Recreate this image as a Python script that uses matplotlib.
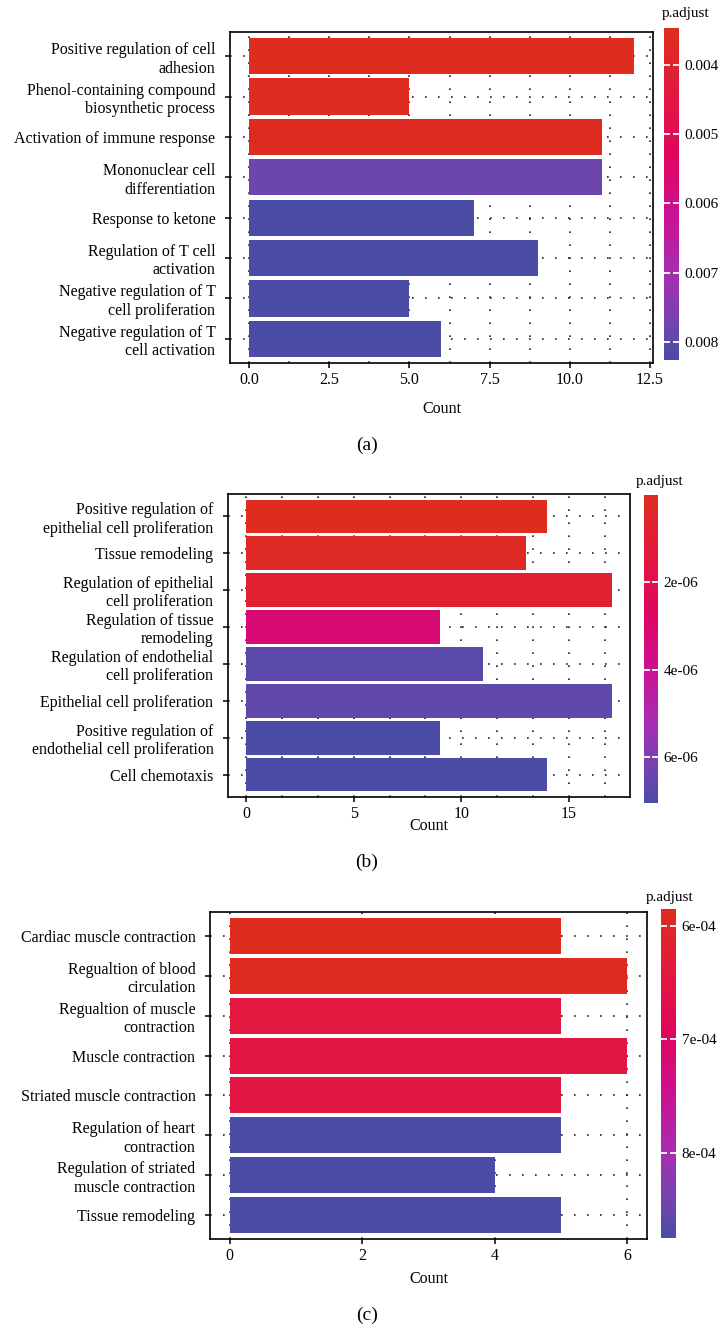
import numpy as np
import matplotlib
matplotlib.use("Agg")
import matplotlib.pyplot as plt
from matplotlib.colors import LinearSegmentedColormap, Normalize
from matplotlib.cm import ScalarMappable
from matplotlib.ticker import MultipleLocator

plt.rcParams['font.family'] = ['Liberation Serif', 'DejaVu Serif']

# panel (a)
a_terms = ["Positive regulation of cell\nadhesion",
           "Phenol-containing compound\nbiosynthetic process",
           "Activation of immune response",
           "Mononuclear cell\ndifferentiation",
           "Response to ketone",
           "Regulation of T cell\nactivation",
           "Negative regulation of T\ncell proliferation",
           "Negative regulation of T\ncell activation"]
a_count = [12, 5, 11, 11, 7, 9, 5, 6]
a_padj = [0.00347, 0.00352, 0.00358, 0.00783, 0.00826, 0.00826, 0.00826, 0.00826]
a_xticks = [0, 2.5, 5, 7.5, 10, 12.5]
a_xlabels = ["0.0", "2.5", "5.0", "7.5", "10.0", "12.5"]
a_cticks = [0.004, 0.005, 0.006, 0.007, 0.008]
a_clabels = ["0.004", "0.005", "0.006", "0.007", "0.008"]

# panel (b)
b_terms = ["Positive regulation of\nepithelial cell proliferation",
           "Tissue remodeling",
           "Regulation of epithelial\ncell proliferation",
           "Regulation of tissue\nremodeling",
           "Regulation of endothelial\ncell proliferation",
           "Epithelial cell proliferation",
           "Positive regulation of\nendothelial cell proliferation",
           "Cell chemotaxis"]
b_count = [14, 13, 17, 9, 11, 17, 9, 14]
b_padj = [1.0e-08, 3.0e-07, 8.5e-07, 3.2e-06, 6.7e-06, 6.6e-06, 7.05e-06, 7.05e-06]
b_xticks = [0, 5, 10, 15]
b_xlabels = ["0", "5", "10", "15"]
b_cticks = [2e-06, 4e-06, 6e-06]
b_clabels = ["2e-06", "4e-06", "6e-06"]

# panel (c)
c_terms = ["Cardiac muscle contraction",
           "Regualtion of blood\ncirculation",
           "Regualtion of muscle\ncontraction",
           "Muscle contraction",
           "Striated muscle contraction",
           "Regulation of heart\ncontraction",
           "Regulation of striated\nmuscle contraction",
           "Tissue remodeling"]
c_count = [5, 6, 5, 6, 5, 5, 4, 5]
c_padj = [5.85e-04, 5.9e-04, 6.45e-04, 6.5e-04, 6.5e-04, 8.75e-04, 8.75e-04, 8.75e-04]
c_xticks = [0, 2, 4, 6]
c_xlabels = ["0", "2", "4", "6"]
c_cticks = [6e-04, 7e-04, 8e-04]
c_clabels = ["6e-04", "7e-04", "8e-04"]

cmap = LinearSegmentedColormap.from_list("padj", [
    (0.0, "#DE2D1F"), (0.2, "#E2183F"), (0.38, "#E0055E"), (0.55, "#CD1090"),
    (0.75, "#A42FB2"), (0.9, "#6F45AE"), (1.0, "#4A4CA5")])

W, H = 722, 1327
fig = plt.figure(figsize=(W / 100, H / 100), dpi=100)


def px_box(x0, y0, x1, y1):
    return [x0 / W, 1 - y1 / H, (x1 - x0) / W, (y1 - y0) / H]


def panel(terms, counts, padj, xticks, xlabels, minor, cticks, clabels,
          box, cbox, title_xy, count_y, tag, tag_y):
    ax = fig.add_axes(px_box(*box))
    norm = Normalize(min(padj), max(padj))
    y = np.arange(len(terms))[::-1]
    ax.barh(y, counts, height=0.9, color=cmap(norm(np.array(padj))), zorder=2)
    ax.set_axisbelow(True)
    ax.set_yticks(y, terms)
    ax.set_ylim(-0.6, len(terms) - 0.4)
    xmax = max(counts)
    ax.set_xlim(-0.05 * xmax, 1.05 * xmax)
    ax.set_xticks(xticks, xlabels)
    ax.xaxis.set_minor_locator(MultipleLocator(minor))
    dots = dict(color="#222222", lw=1.2, linestyle=(0, (1, 6.8)))
    ax.grid(which="both", axis="x", **dots)
    ax.grid(which="major", axis="y", **dots)
    ax.tick_params(which="minor", length=0)
    ax.tick_params(which="major", direction="out", length=3.5, width=1.1, labelsize=11.5)
    ax.tick_params(axis="y", pad=7)
    ax.tick_params(axis="x", pad=3)
    for s in ax.spines.values():
        s.set_linewidth(1.2)
    ax.set_xlabel("Count", fontsize=11.5)
    ax.xaxis.set_label_coords(0.5, (box[3] - count_y) / (box[3] - box[1]))
    ax.xaxis.label.set_va("center")

    cax = fig.add_axes(px_box(*cbox))
    cb = fig.colorbar(ScalarMappable(norm=norm, cmap=cmap), cax=cax)
    cax.invert_yaxis()
    cb.outline.set_visible(False)
    cb.set_ticks(cticks, labels=clabels)
    cax.minorticks_off()
    cax.tick_params(direction="in", color="white", length=4, width=1.3,
                    left=True, right=True, labelsize=11, pad=4)
    fig.text(title_xy[0] / W, 1 - title_xy[1] / H, "p.adjust", fontsize=11,
             ha="left", va="center")
    fig.text(367 / W, 1 - tag_y / H, tag, fontsize=14, ha="center", va="center")
    return ax


panel(a_terms, a_count, a_padj, a_xticks, a_xlabels, 1.25, a_cticks, a_clabels,
      (230, 32, 653, 363), (664, 28, 679, 360), (662, 13), 409, "(a)", 445)
panel(b_terms, b_count, b_padj, b_xticks, b_xlabels, 5 / 3, b_cticks, b_clabels,
      (228, 494, 630, 797), (644, 495, 658, 803), (636, 482), 826, "(b)", 862)
panel(c_terms, c_count, c_padj, c_xticks, c_xlabels, 2, c_cticks, c_clabels,
      (210, 912, 647, 1239), (661, 909, 676, 1238), (646, 898), 1279, "(c)", 1315)

fig.savefig("out.png", dpi=100)
